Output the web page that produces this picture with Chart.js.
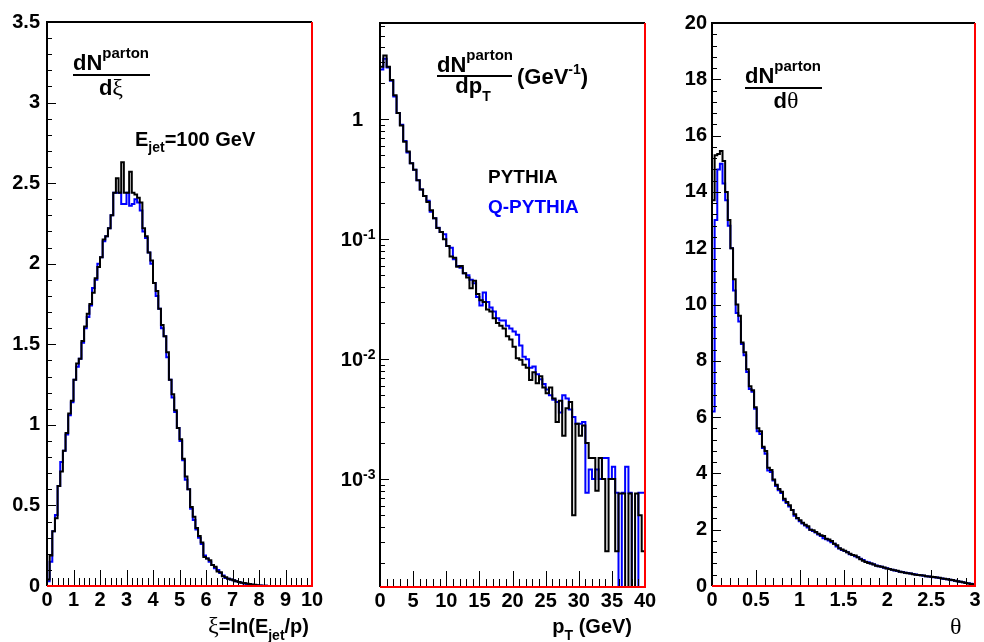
<!DOCTYPE html>
<html>
<head>
<meta charset="utf-8">
<title>Parton distributions: PYTHIA vs Q-PYTHIA</title>
<script src="https://cdn.jsdelivr.net/npm/chart.js@4.4.1/dist/chart.umd.min.js"></script>
<style>
    html, body { margin: 0; padding: 0; background: #fff; }
    #wrap { position: relative; width: 984px; height: 642px; overflow: hidden; }
    #wrap canvas { position: absolute; top: 0; }
</style>
</head>
<body>
<div id="wrap">
    <canvas id="xi-chart" width="330" height="642" style="left:0px"></canvas>
    <canvas id="pt-chart" width="330" height="642" style="left:330px"></canvas>
    <canvas id="theta-chart" width="324" height="642" style="left:660px"></canvas>
</div>
<script>
// Bin widths of the three histograms
const xiBinWidth = 0.1;
const ptBinWidth = 0.5;
const thetaBinWidth = 0.03;

// dN/dxi, 100 bins from 0 to 10
const xiPythia = [
    0.04, 0.19, 0.34, 0.42, 0.62, 0.71, 0.84, 0.95, 1.07, 1.15,
    1.28, 1.38, 1.41, 1.52, 1.61, 1.69, 1.75, 1.82, 1.91, 1.98,
    2.04, 2.15, 2.17, 2.22, 2.30, 2.44, 2.53, 2.44, 2.63, 2.44,
    2.44, 2.57, 2.44, 2.43, 2.41, 2.38, 2.22, 2.17, 2.07, 2.02,
    1.88, 1.83, 1.72, 1.62, 1.55, 1.45, 1.28, 1.19, 1.09, 0.98,
    0.91, 0.79, 0.68, 0.60, 0.49, 0.43, 0.36, 0.31, 0.27, 0.18,
    0.17, 0.16, 0.13, 0.12, 0.09, 0.085, 0.06, 0.055, 0.045, 0.04,
    0.035, 0.03, 0.025, 0.02, 0.018, 0.015, 0.012, 0.01, 0.007, 0.005,
    0.003, 0.002, 0.001, 0, 0, 0, 0, 0, 0, 0,
    0, 0, 0, 0, 0, 0, 0, 0, 0, 0
];
const xiQPythia = [
    0.03, 0.15, 0.34, 0.44, 0.62, 0.77, 0.84, 0.94, 1.06, 1.14,
    1.28, 1.36, 1.41, 1.51, 1.60, 1.67, 1.74, 1.85, 1.90, 2.00,
    2.04, 2.14, 2.17, 2.22, 2.30, 2.44, 2.44, 2.44, 2.37, 2.37,
    2.44, 2.36, 2.37, 2.40, 2.38, 2.33, 2.20, 2.16, 2.07, 2.00,
    1.88, 1.80, 1.72, 1.60, 1.55, 1.42, 1.28, 1.17, 1.08, 0.98,
    0.90, 0.78, 0.66, 0.60, 0.48, 0.41, 0.35, 0.30, 0.26, 0.19,
    0.17, 0.15, 0.13, 0.11, 0.10, 0.08, 0.065, 0.05, 0.045, 0.04,
    0.035, 0.03, 0.025, 0.02, 0.016, 0.013, 0.01, 0.008, 0.006, 0.004,
    0.003, 0.002, 0.001, 0, 0, 0, 0, 0, 0, 0,
    0, 0, 0, 0, 0, 0, 0, 0, 0, 0
];

// dN/dpT in 1/GeV, 80 bins from 0 to 40 GeV (0 = empty bin)
const ptPythia = [
    2.75, 3.4, 2.75, 2.13, 1.59, 1.13, 0.89, 0.65, 0.54, 0.43,
    0.38, 0.31, 0.26, 0.23, 0.205, 0.175, 0.15, 0.124, 0.115, 0.1,
    0.088, 0.072, 0.07, 0.059, 0.06, 0.052, 0.048, 0.039, 0.045, 0.035,
    0.031, 0.030, 0.026, 0.025, 0.022, 0.020, 0.019, 0.018, 0.0155, 0.0146,
    0.0127, 0.0102, 0.0099, 0.009, 0.0085, 0.0067, 0.0078, 0.0063, 0.0072, 0.0058,
    0.0052, 0.0058, 0.0047, 0.0030, 0.0045, 0.0023, 0.0039, 0.0044, 0.0005, 0.0029,
    0.0023, 0.0028, 0.0020, 0.0015, 0.0015, 0.0008, 0.0015, 0.0010, 0.00025, 0.0010,
    0.0010, 0.00025, 0.00076, 0.00076, 0, 0.00076, 0, 0.00076, 0.0005, 0.00025
];
const ptQPythia = [
    2.6, 3.2, 2.7, 2.1, 1.55, 1.13, 0.9, 0.66, 0.53, 0.43,
    0.38, 0.31, 0.26, 0.23, 0.21, 0.17, 0.15, 0.125, 0.115, 0.11,
    0.088, 0.085, 0.068, 0.06, 0.058, 0.052, 0.05, 0.046, 0.043, 0.033,
    0.028, 0.036, 0.03, 0.027, 0.025, 0.022, 0.021, 0.021, 0.019, 0.018,
    0.017, 0.016, 0.013, 0.0105, 0.01, 0.0085, 0.0087, 0.0075, 0.0068, 0.0062,
    0.0056, 0.005, 0.0046, 0.0044, 0.0036, 0.005, 0.0047, 0.0038, 0.0033, 0.0029,
    0.0029, 0.0030, 0.00077, 0.0012, 0.0010, 0.0012, 0.0010, 0.0015, 0.0015, 0.0010,
    0.00127, 0.00077, 0, 0.00077, 0.00127, 0.00077, 0, 0, 0.00077, 0.00077
];

// dN/dtheta, 100 bins from 0 to 3
const thetaPythia = [
    13.7, 15.3, 15.35, 15.45, 15.1, 14.0, 13.0, 12.0, 10.9, 10.0,
    9.6, 8.65, 8.3, 7.7, 7.1, 6.95, 6.35, 5.6, 5.5, 4.95,
    4.8, 4.2, 4.12, 3.78, 3.6, 3.45, 3.35, 3.1, 2.98, 2.87,
    2.7, 2.55, 2.42, 2.34, 2.25, 2.18, 2.12, 2.0, 1.98, 1.92,
    1.86, 1.8, 1.78, 1.68, 1.65, 1.6, 1.5, 1.45, 1.34, 1.3,
    1.25, 1.2, 1.15, 1.1, 1.08, 1.02, 0.95, 0.9, 0.85, 0.82,
    0.8, 0.76, 0.72, 0.7, 0.68, 0.66, 0.62, 0.6, 0.58, 0.56,
    0.54, 0.51, 0.49, 0.47, 0.45, 0.44, 0.42, 0.4, 0.39, 0.38,
    0.37, 0.35, 0.34, 0.33, 0.32, 0.3, 0.29, 0.27, 0.26, 0.24,
    0.22, 0.21, 0.19, 0.17, 0.15, 0.13, 0.11, 0.09, 0.07, 0.06
];
const thetaQPythia = [
    6.2, 13.0, 14.8, 15.0, 14.3, 13.7, 12.8, 12.0, 10.5, 9.7,
    9.4, 8.6, 8.2, 7.6, 7.0, 6.9, 6.3, 5.5, 5.4, 4.9,
    4.7, 4.1, 4.05, 3.75, 3.55, 3.4, 3.3, 3.05, 2.95, 2.82,
    2.7, 2.5, 2.4, 2.3, 2.22, 2.15, 2.08, 2.0, 1.95, 1.9,
    1.83, 1.78, 1.7, 1.66, 1.62, 1.55, 1.5, 1.4, 1.33, 1.28,
    1.24, 1.2, 1.13, 1.1, 1.06, 1.02, 0.97, 0.92, 0.86, 0.84,
    0.8, 0.77, 0.73, 0.7, 0.68, 0.65, 0.63, 0.6, 0.58, 0.55,
    0.53, 0.51, 0.5, 0.47, 0.46, 0.44, 0.43, 0.41, 0.39, 0.38,
    0.36, 0.35, 0.34, 0.32, 0.31, 0.3, 0.28, 0.27, 0.25, 0.24,
    0.22, 0.2, 0.19, 0.17, 0.15, 0.13, 0.11, 0.1, 0.08, 0.06
];

// Decade labels of the log axis: [base, exponent]
const ptDecades = [1, 0.1, 0.01, 0.001];
const ptDecadeLabels = [['1', ''], ['10', '-1'], ['10', '-2'], ['10', '-3']];

const COLORS = { pythia: '#000000', qpythia: '#0000ff', frame: '#ff0000' };
const SANS = '"Liberation Sans", Arial, sans-serif';
const SERIF = '"Liberation Serif", "DejaVu Serif", serif';
const PT_MIN = 1.26e-4;
const PT_MAX = 6.36;

// Turn bin contents into an outline: two points per bin (left and right edge)
function histPoints(values, width, floor) {
    const points = [];
    values.forEach(function(v, i) {
        const y = (floor !== undefined && v <= 0) ? floor : v;
        points.push({ x: i * width, y: y });
        points.push({ x: (i + 1) * width, y: y });
    });
    return points;
}

// Tick marks for the frame (drawn inside the plot like ROOT does)
function linearTicks(min, max, step, majorEvery) {
    const ticks = [];
    const n = Math.round((max - min) / step);
    for (let i = 0; i <= n; i++) {
        ticks.push({ v: min + i * step, major: i % majorEvery === 0 });
    }
    return ticks;
}

function logTicks(min, max) {
    const ticks = [];
    for (let e = -5; e <= 1; e++) {
        for (let m = 1; m <= 9; m++) {
            const v = m * Math.pow(10, e);
            if (v >= min && v <= max) ticks.push({ v: v, major: m === 1 });
        }
    }
    return ticks;
}

// Draw a run of text pieces: [text, font, dy, color]
function drawPieces(ctx, pieces, x, y, align) {
    ctx.save();
    ctx.textBaseline = 'alphabetic';
    ctx.textAlign = 'left';
    let total = 0;
    pieces.forEach(function(p) { ctx.font = p[1]; total += ctx.measureText(p[0]).width; });
    let cx = x;
    if (align === 'right') cx = x - total;
    if (align === 'center') cx = x - total / 2;
    pieces.forEach(function(p) {
        ctx.font = p[1];
        ctx.fillStyle = p[3] || '#000';
        ctx.fillText(p[0], cx, y + (p[2] || 0));
        cx += ctx.measureText(p[0]).width;
    });
    ctx.restore();
}

function fmt(v) {
    return String(Math.round(v * 100) / 100);
}

const bold = function(size) { return 'bold ' + size + 'px ' + SANS; };
const serif = function(size) { return size + 'px ' + SERIF; };

// Frame, inner ticks and the text of each pad
const rootFrame = {
    id: 'rootFrame',
    afterDraw(chart, args, opts) {
        const ctx = chart.ctx;
        const area = chart.chartArea;
        const xs = chart.scales.x;
        const ys = chart.scales.y;
        ctx.save();
        ctx.strokeStyle = '#000';
        ctx.lineWidth = 1;
        ctx.beginPath();
        opts.yTicks.forEach(function(t) {
            const py = Math.round(ys.getPixelForValue(t.v)) + 0.5;
            ctx.moveTo(area.left, py);
            ctx.lineTo(area.left + (t.major ? 9 : 5), py);
        });
        opts.xTicks.forEach(function(t) {
            const px = Math.round(xs.getPixelForValue(t.v)) + 0.5;
            ctx.moveTo(px, area.bottom);
            ctx.lineTo(px, area.bottom - (t.major ? 16 : 8));
        });
        ctx.stroke();

        // black left and top edges
        ctx.lineWidth = 2;
        ctx.beginPath();
        ctx.moveTo(area.left, area.bottom);
        ctx.lineTo(area.left, area.top);
        ctx.lineTo(area.right, area.top);
        ctx.stroke();

        // red right and bottom edges
        ctx.strokeStyle = COLORS.frame;
        ctx.beginPath();
        ctx.moveTo(area.right, area.top);
        ctx.lineTo(area.right, area.bottom);
        ctx.lineTo(area.left, area.bottom);
        ctx.stroke();
        ctx.restore();

        if (opts.texts) opts.texts(ctx, chart);
    }
};

function fraction(ctx, x, barY, barW, numBase, denPieces, denBase, denCenter) {
    drawPieces(ctx, [['dN', bold(22), 0], ['parton', bold(15), -12]], x, numBase);
    ctx.fillStyle = '#000';
    ctx.fillRect(x, barY, barW, 2);
    drawPieces(ctx, denPieces, denCenter, denBase, 'center');
}

function makeChart(id, cfg) {
    const ctx = document.getElementById(id);
    // dataset 0 is painted last, so PYTHIA (black) sits on top of Q-PYTHIA
    return new Chart(ctx, {
        type: 'line',
        data: {
            datasets: [{
                label: 'PYTHIA',
                data: cfg.pythia,
                borderColor: COLORS.pythia,
                borderWidth: 2
            }, {
                label: 'Q-PYTHIA',
                data: cfg.qpythia,
                borderColor: COLORS.qpythia,
                borderWidth: 2
            }]
        },
        options: {
            responsive: false,
            animation: false,
            devicePixelRatio: 1,
            layout: {
                autoPadding: false,
                padding: { top: cfg.top, right: cfg.right, left: 0, bottom: 0 }
            },
            elements: {
                point: { radius: 0 },
                line: { tension: 0, borderJoinStyle: 'miter', fill: false }
            },
            plugins: {
                legend: { display: false },
                tooltip: { enabled: false },
                rootFrame: { xTicks: cfg.xTicks, yTicks: cfg.yTicks, texts: cfg.texts }
            },
            scales: {
                x: Object.assign({
                    type: 'linear',
                    grid: { display: false, drawTicks: false },
                    border: { display: false },
                    afterFit: function(s) { s.height = cfg.xHeight; }
                }, cfg.x),
                y: Object.assign({
                    grid: { display: false, drawTicks: false },
                    border: { display: false },
                    afterFit: function(s) { s.width = cfg.yWidth; }
                }, cfg.y)
            }
        },
        plugins: [rootFrame]
    });
}

const tickFont = { family: SANS, size: 20, weight: 'bold' };

document.addEventListener('DOMContentLoaded', function() {
    // Left pad: xi = ln(Ejet/p)
    makeChart('xi-chart', {
        pythia: histPoints(xiPythia, xiBinWidth),
        qpythia: histPoints(xiQPythia, xiBinWidth),
        top: 22, right: 18, xHeight: 56, yWidth: 47,
        x: { min: 0, max: 10, ticks: { stepSize: 1, autoSkip: false, maxRotation: 0, font: tickFont, color: '#000', padding: 2, callback: fmt } },
        y: { type: 'linear', min: 0, max: 3.5, ticks: { stepSize: 0.5, font: tickFont, color: '#000', padding: 7, callback: fmt } },
        xTicks: linearTicks(0, 10, 0.2, 5),
        yTicks: linearTicks(0, 3.5, 0.1, 5),
        texts: function(ctx) {
            fraction(ctx, 73, 74, 77, 70, [['d', bold(22), 0], ['\u03be', serif(24), 0]], 95, 111);
            drawPieces(ctx, [['E', bold(20), 0], ['jet', bold(14), 6], ['=100 GeV', bold(20), 0]], 135, 146);
            drawPieces(ctx, [['\u03be', serif(24), 0], ['=ln(E', bold(20), 0], ['jet', bold(14), 7], ['/p)', bold(20), 0]], 309, 633, 'right');
        }
    });

    // Middle pad: pT, log scale
    makeChart('pt-chart', {
        pythia: histPoints(ptPythia, ptBinWidth, PT_MIN / 100),
        qpythia: histPoints(ptQPythia, ptBinWidth, PT_MIN / 100),
        top: 23, right: 15, xHeight: 55, yWidth: 50,
        x: { min: 0, max: 40, ticks: { stepSize: 5, autoSkip: false, maxRotation: 0, font: tickFont, color: '#000', padding: 2, callback: fmt } },
        y: { type: 'logarithmic', min: PT_MIN, max: PT_MAX, ticks: { display: false } },
        xTicks: linearTicks(0, 40, 1, 5),
        yTicks: logTicks(PT_MIN, PT_MAX),
        texts: function(ctx, chart) {
            const ys = chart.scales.y;
            ptDecades.forEach(function(v, i) {
                const py = ys.getPixelForValue(v);
                const lab = ptDecadeLabels[i];
                ctx.save();
                ctx.fillStyle = '#000';
                ctx.font = bold(20);
                ctx.textAlign = 'right';
                ctx.textBaseline = 'middle';
                ctx.fillText(lab[0], 33, py + 1);
                ctx.textAlign = 'left';
                ctx.textBaseline = 'alphabetic';
                ctx.font = bold(14);
                ctx.fillText(lab[1], 33, py);
                ctx.restore();
            });
            fraction(ctx, 107, 75, 75, 72, [['dp', bold(22), 0], ['T', bold(14), 8]], 93, 143);
            drawPieces(ctx, [['(GeV', bold(22), 0], ['-1', bold(14), -10], [')', bold(22), 0]], 187, 84);
            drawPieces(ctx, [['PYTHIA', bold(19), 0, COLORS.pythia]], 158, 183);
            drawPieces(ctx, [['Q-PYTHIA', bold(19), 0, COLORS.qpythia]], 158, 213);
            drawPieces(ctx, [['p', bold(20), 0], ['T', bold(14), 7], [' (GeV)', bold(20), 0]], 302, 633, 'right');
        }
    });

    // Right pad: theta
    makeChart('theta-chart', {
        pythia: histPoints(thetaPythia, thetaBinWidth),
        qpythia: histPoints(thetaQPythia, thetaBinWidth),
        top: 23, right: 9, xHeight: 56, yWidth: 52,
        x: { min: 0, max: 3, ticks: { stepSize: 0.5, autoSkip: false, maxRotation: 0, font: tickFont, color: '#000', padding: 2, callback: fmt } },
        y: { type: 'linear', min: 0, max: 20, ticks: { stepSize: 2, font: tickFont, color: '#000', padding: 5, callback: fmt } },
        xTicks: linearTicks(0, 3, 0.1, 5),
        yTicks: linearTicks(0, 20, 0.4, 5),
        texts: function(ctx) {
            fraction(ctx, 85, 87, 77, 83, [['d', bold(22), 0], ['\u03b8', serif(24), 0]], 108, 126);
            drawPieces(ctx, [['\u03b8', serif(24), 0]], 290, 634);
        }
    });
});
</script>
</body>
</html>
